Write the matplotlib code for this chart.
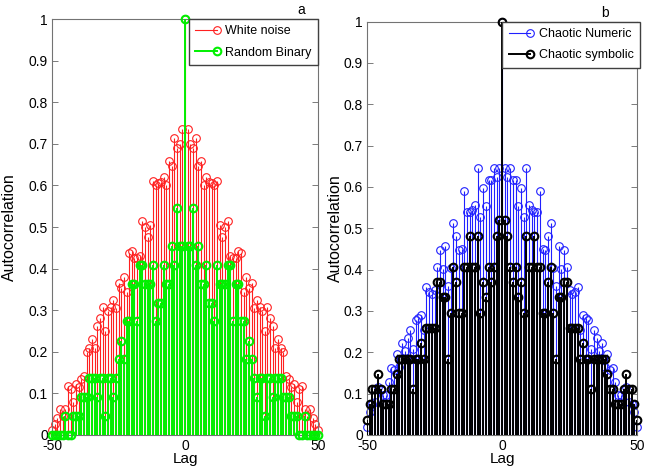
import numpy as np
import matplotlib
matplotlib.use('Agg')
import matplotlib.pyplot as plt
from matplotlib.lines import Line2D
from matplotlib.legend_handler import HandlerLine2D

plt.rcParams['font.family'] = ['Liberation Sans', 'DejaVu Sans']
plt.rcParams['axes.unicode_minus'] = False

lags = np.arange(-50, 51)

# autocorrelation at lags 0..50, the negative lags are the mirror image
white_noise = [1.0, 0.736, 0.70, 0.69, 0.715, 0.647, 0.66, 0.60, 0.621, 0.609,
               0.606, 0.60, 0.61, 0.506, 0.475, 0.50, 0.515, 0.43, 0.425, 0.425,
               0.442, 0.437, 0.343, 0.381, 0.353, 0.365, 0.305, 0.325, 0.307, 0.298,
               0.249, 0.309, 0.281, 0.261, 0.209, 0.231, 0.209, 0.199, 0.142, 0.134,
               0.115, 0.122, 0.08, 0.11, 0.118, 0.062, 0.045, 0.063, 0.04, 0.026,
               0.012]
random_binary = [1.0, 0.455, 0.455, 0.545, 0.409, 0.455, 0.364, 0.364, 0.409, 0.318,
                 0.318, 0.273, 0.409, 0.364, 0.364, 0.364, 0.409, 0.409, 0.273, 0.364,
                 0.364, 0.273, 0.273, 0.182, 0.227, 0.182, 0.136, 0.091, 0.136, 0.136,
                 0.045, 0.136, 0.136, 0.091, 0.136, 0.136, 0.136, 0.091, 0.091, 0.091,
                 0.045, 0.045, 0.045, 0.0, 0.0, 0.045, 0.0, 0.0, 0.0, 0.0,
                 0.0]
chaotic_numeric = [1.0, 0.645, 0.623, 0.645, 0.618, 0.618, 0.553, 0.597, 0.527, 0.645,
                   0.556, 0.545, 0.54, 0.54, 0.59, 0.45, 0.448, 0.482, 0.512, 0.403,
                   0.36, 0.458, 0.402, 0.448, 0.406, 0.35, 0.34, 0.345, 0.357, 0.255,
                   0.29, 0.283, 0.278, 0.209, 0.253, 0.235, 0.202, 0.223, 0.165, 0.197,
                   0.157, 0.162, 0.129, 0.096, 0.096, 0.11, 0.115, 0.08, 0.076, 0.055,
                   0.02]
chaotic_symbolic = [1.0, 0.519, 0.481, 0.407, 0.370, 0.407, 0.333, 0.370, 0.296, 0.481,
                    0.407, 0.407, 0.481, 0.407, 0.407, 0.296, 0.296, 0.370, 0.407, 0.296,
                    0.185, 0.333, 0.333, 0.370, 0.370, 0.259, 0.259, 0.259, 0.259, 0.185,
                    0.222, 0.185, 0.185, 0.111, 0.185, 0.185, 0.185, 0.185, 0.185, 0.148,
                    0.111, 0.111, 0.074, 0.074, 0.074, 0.111, 0.148, 0.111, 0.111, 0.074,
                    0.037]


def both_sides(half):
    half = np.asarray(half)
    return np.concatenate([half[:0:-1], half])


class EndMarker(HandlerLine2D):
    # legend line with the circle sitting on its right end
    def create_artists(self, *args, **kwargs):
        arts = super().create_artists(*args, **kwargs)
        for a in arts:
            a.set_markevery([len(a.get_xdata()) - 1])
        return arts


def draw_stem(ax, y, color, lw, mew, z):
    st = ax.stem(lags, both_sides(y), linefmt='-', markerfmt='o', basefmt=' ')
    st.stemlines.set_color(color)
    st.stemlines.set_linewidth(lw)
    st.stemlines.set_zorder(z)
    st.markerline.set_color(color)
    st.markerline.set_markerfacecolor('none')
    st.markerline.set_markersize(5.5)
    st.markerline.set_markeredgewidth(mew)
    st.markerline.set_zorder(z + 0.5)
    st.markerline.set_clip_on(False)
    return Line2D([], [], color=color, lw=lw, marker='o', mfc='none', ms=5.5, mew=mew)


def style_axes(ax, tag, tag_x):
    ax.set_xlim(-50, 50)
    ax.set_ylim(0, 1)
    ax.set_xticks([-50, 0, 50])
    ax.set_yticks(np.arange(0, 1.01, 0.1))
    ax.set_yticklabels(['0', '0.1', '0.2', '0.3', '0.4', '0.5', '0.6', '0.7', '0.8', '0.9', '1'])
    ax.tick_params(direction='in', right=True, top=False, length=4, width=0.6,
                   color='0.4', labelsize=10, pad=3)
    ax.tick_params(axis='x', pad=3)
    for sp in ax.spines.values():
        sp.set_color('0.45')
        sp.set_linewidth(0.8)
    ax.set_xlabel('Lag', fontsize=11)
    ax.xaxis.set_label_coords(0.5, -0.04)
    ax.set_ylabel('Autocorrelation', fontsize=11.5)
    ax.text(tag_x, 1.005, tag, transform=ax.transAxes, fontsize=10, ha='center', va='bottom')


def add_legend(ax, handles, labels, anchor):
    ax.legend(handles, labels, loc='upper right', bbox_to_anchor=anchor,
              borderaxespad=0, fancybox=False, edgecolor='0.25', framealpha=1,
              fontsize=9, handlelength=1.7, handletextpad=0.7, labelspacing=0.75,
              borderpad=0.5, handler_map={Line2D: EndMarker()})


fig = plt.figure(figsize=(6.56, 4.70), dpi=100)
ax1 = fig.add_axes([0.0793, 0.0745, 0.4055, 0.8847])
ax2 = fig.add_axes([0.5595, 0.0745, 0.4116, 0.8794])

h_wn = draw_stem(ax1, white_noise, '#ff2020', 0.8, 0.8, 2)
h_rb = draw_stem(ax1, random_binary, '#00f000', 1.4, 1.5, 3)
style_axes(ax1, 'a', 0.936)
ax1.yaxis.set_label_coords(-0.13, 0.5)
add_legend(ax1, [h_wn, h_rb], ['White noise', 'Random Binary'], (1.0, 1.0))

h_cn = draw_stem(ax2, chaotic_numeric, '#2020ff', 0.8, 0.8, 2)
h_cs = draw_stem(ax2, chaotic_symbolic, 'black', 1.4, 1.5, 3)
style_axes(ax2, 'b', 0.88)
ax2.yaxis.set_label_coords(-0.088, 0.5)
add_legend(ax2, [h_cn, h_cs], ['Chaotic Numeric', 'Chaotic symbolic'], (1.01, 1.0))

fig.savefig('out.png', dpi=100)
